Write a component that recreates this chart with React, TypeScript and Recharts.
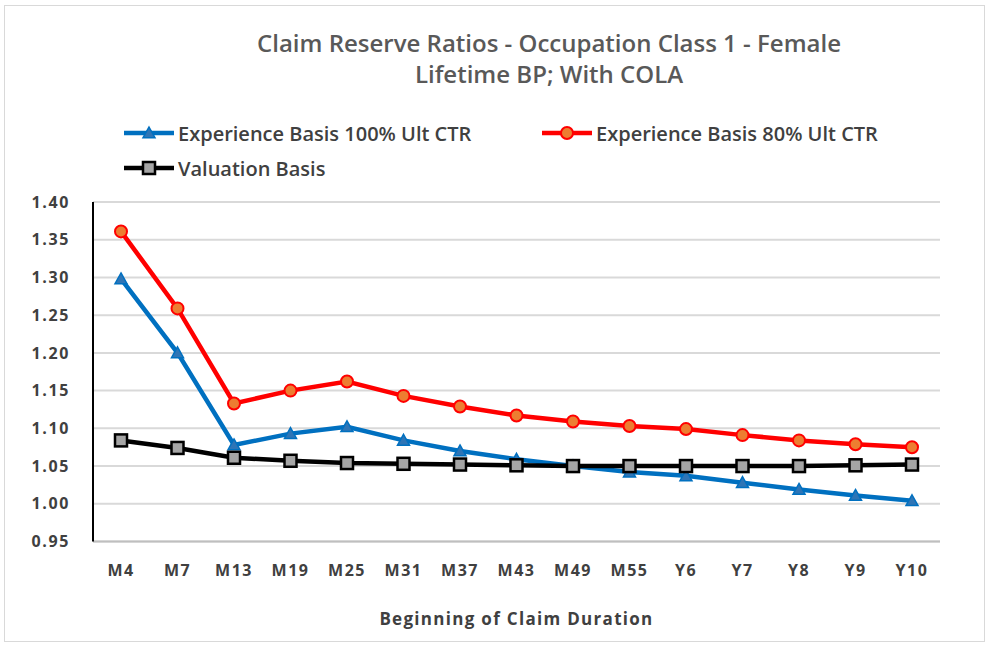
import React from 'react';
import { LineChart, Line, XAxis, YAxis, CartesianGrid } from 'recharts';

const categories = ['M4', 'M7', 'M13', 'M19', 'M25', 'M31', 'M37', 'M43', 'M49', 'M55', 'Y6', 'Y7', 'Y8', 'Y9', 'Y10'];
const exp100 = [1.298, 1.2, 1.078, 1.093, 1.102, 1.084, 1.07, 1.059, 1.05, 1.042, 1.037, 1.028, 1.019, 1.011, 1.004];
const exp80 = [1.361, 1.259, 1.133, 1.15, 1.162, 1.143, 1.129, 1.117, 1.109, 1.103, 1.099, 1.091, 1.084, 1.079, 1.075];
const valuation = [1.084, 1.074, 1.061, 1.057, 1.054, 1.053, 1.052, 1.051, 1.05, 1.05, 1.05, 1.05, 1.05, 1.051, 1.052];
const yTicks = [0.95, 1.0, 1.05, 1.1, 1.15, 1.2, 1.25, 1.3, 1.35, 1.4];

const data = categories.map((c, i) => ({
  name: c,
  exp100: exp100[i],
  exp80: exp80[i],
  valuation: valuation[i],
}));

const FONT = '"Open Sans", sans-serif';
const TEXT = '#404040';

// markers
const Triangle = (props: any) => {
  const { cx, cy, index } = props;
  if (cx == null || cy == null) return <g key={index} />;
  const s = 6;
  return (
    <polygon
      key={index}
      points={`${cx},${cy - s} ${cx + s},${cy + s * 0.8} ${cx - s},${cy + s * 0.8}`}
      fill="#2E75B6"
      stroke="#0070C0"
      strokeWidth={1.5}
    />
  );
};

const Circle = (props: any) => {
  const { cx, cy, index } = props;
  if (cx == null || cy == null) return <g key={index} />;
  return <circle key={index} cx={cx} cy={cy} r={6} fill="#ED7D31" stroke="#FF0000" strokeWidth={2} />;
};

const Square = (props: any) => {
  const { cx, cy, index } = props;
  if (cx == null || cy == null) return <g key={index} />;
  return <rect key={index} x={cx - 6} y={cy - 6} width={12} height={12} fill="#A5A5A5" stroke="#000" strokeWidth={2.5} />;
};

const series = [
  { key: 'exp100', name: 'Experience Basis 100% Ult CTR', color: '#0070C0', dot: Triangle },
  { key: 'exp80', name: 'Experience Basis 80% Ult CTR', color: '#FF0000', dot: Circle },
  { key: 'valuation', name: 'Valuation Basis', color: '#000000', dot: Square },
];

const LegendIcon = ({ s }: { s: any }) => {
  const Dot = s.dot;
  return (
    <svg width={50} height={16} style={{ display: 'block' }}>
      <line x1={0} y1={8} x2={50} y2={8} stroke={s.color} strokeWidth={4.5} />
      <Dot cx={25} cy={8} index={0} />
    </svg>
  );
};

const legendPos = [
  { left: 124, top: 121 },
  { left: 542, top: 121 },
  { left: 124, top: 156 },
];

const tickStyle = { fill: TEXT, fontSize: 16, fontWeight: 700, fontFamily: FONT, letterSpacing: 1 };

export default function App() {
  return (
    <div style={{ position: 'absolute', left: 0, top: 0, width: 986, height: 647, background: '#fff', fontFamily: FONT }}>
      <div style={{ position: 'absolute', left: 4, top: 5, width: 979, height: 635, border: '1px solid #d9d9d9' }} />
      <div style={{ position: 'absolute', left: 0, width: 1098, top: 27, textAlign: 'center', fontSize: 24, fontWeight: 600, color: '#595959', lineHeight: '31px' }}>
        <div>Claim Reserve Ratios - Occupation Class 1 - Female</div>
        <div>Lifetime BP; With COLA</div>
      </div>
      {series.map((s, i) => (
        <div
          key={s.key}
          style={{ position: 'absolute', left: legendPos[i].left, top: legendPos[i].top, height: 24, display: 'flex', alignItems: 'center', gap: 4, fontSize: 20, fontWeight: 600, color: TEXT, whiteSpace: 'nowrap' }}
        >
          <LegendIcon s={s} />
          <span>{s.name}</span>
        </div>
      ))}
      <div style={{ position: 'absolute', left: 0, top: 0 }}>
        <LineChart width={986} height={647} data={data} margin={{ top: 202, right: 46, bottom: 0, left: 0 }}>
          <CartesianGrid vertical={false} stroke="#d9d9d9" strokeWidth={2} />
          <XAxis
            dataKey="name"
            height={105.5}
            padding={{ left: 28, right: 28 }}
            tickLine={false}
            tickSize={0}
            tickMargin={23}
            axisLine={{ stroke: '#bfbfbf', strokeWidth: 2 }}
            tick={{ ...tickStyle, letterSpacing: 1.5 }}
            interval={0}
            label={{ value: 'Beginning of Claim Duration', position: 'insideBottom', offset: 22, fill: TEXT, fontSize: 17, fontWeight: 700, fontFamily: FONT, letterSpacing: 1.3 }}
          />
          <XAxis xAxisId="t" dataKey="name" orientation="top" height={0} tick={false} tickLine={false} axisLine={{ stroke: '#000', strokeWidth: 2 }} />
          <YAxis
            domain={[0.95, 1.4]}
            ticks={yTicks}
            width={93}
            tickLine={false}
            tickSize={0}
            tickMargin={23}
            axisLine={{ stroke: '#000', strokeWidth: 2 }}
            tickFormatter={(v: number) => v.toFixed(2)}
            tick={{ ...tickStyle, letterSpacing: 1.6 }}
          />
          <YAxis yAxisId="r" orientation="right" domain={[0.95, 1.4]} width={0} tick={false} tickLine={false} axisLine={{ stroke: '#000', strokeWidth: 2 }} />
          {series.map((s) => (
            <Line
              key={s.key}
              dataKey={s.key}
              name={s.name}
              stroke={s.color}
              strokeWidth={4.5}
              dot={s.dot}
              activeDot={false}
              isAnimationActive={false}
            />
          ))}
        </LineChart>
      </div>
    </div>
  );
}
